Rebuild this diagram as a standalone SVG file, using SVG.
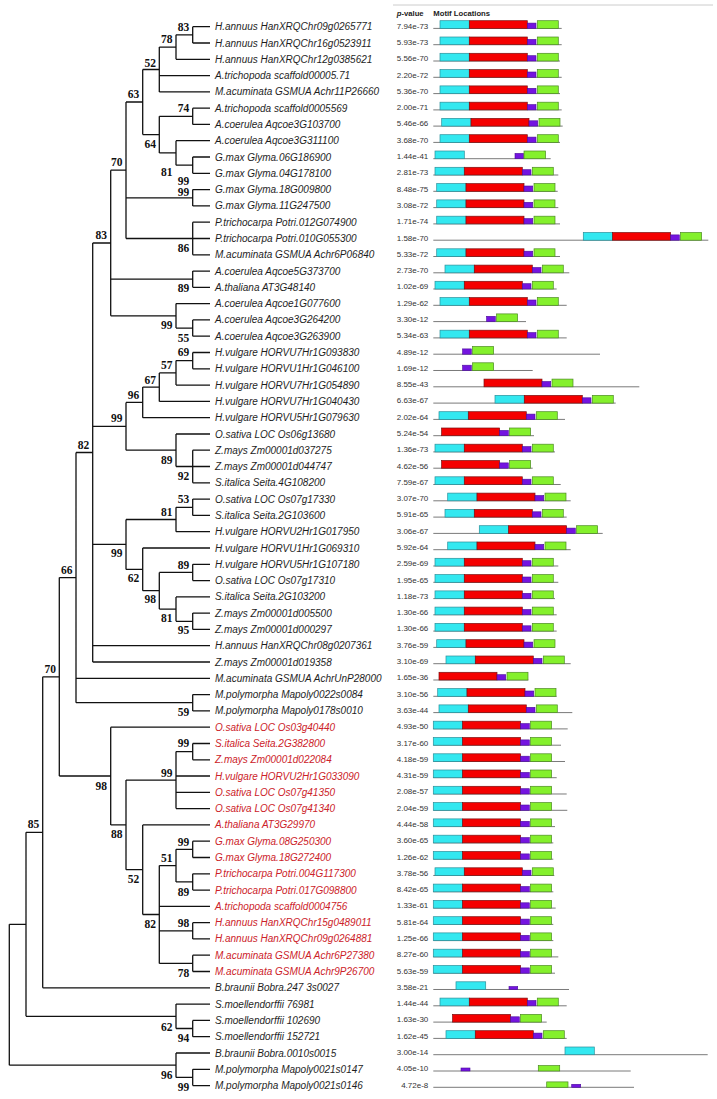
<svg xmlns="http://www.w3.org/2000/svg" xmlns:xlink="http://www.w3.org/1999/xlink" width="717" height="1099" viewBox="0 0 717 1099">
<style>
.lb{font-family:"Liberation Sans",Arial,sans-serif;font-size:10px;font-style:italic;fill:#1e1e1e}
.red .lb{fill:#cc2229}
.pv{font-family:"Liberation Sans",Arial,sans-serif;font-size:8px;fill:#333;text-anchor:end}
.hd{font-family:"Liberation Sans",Arial,sans-serif;font-size:7.7px;font-weight:bold;fill:#222}
.bs{font-family:"Liberation Serif","Times New Roman",serif;font-weight:bold;font-size:11.5px;text-anchor:end;fill:#111}
.bb{stroke:#7a7a7a;stroke-width:1}
.c{fill:#33e8f0;stroke:#2a8f9a;stroke-width:.7}
.r{fill:#f40000;stroke:#7a1010;stroke-width:.7}
.p{fill:#7414e0;stroke:#4a0a9a;stroke-width:.6}
.g{fill:#84f02c;stroke:#4c8a22;stroke-width:.7}
.tr{fill:none;stroke:#111;stroke-width:1.3}
</style>
<defs>
<g id="mf"><rect class="c" x="0" y="-7.7" width="29.3" height="7.7"/><rect class="r" x="29.3" y="-7.7" width="58" height="7.7"/><rect class="p" x="87.3" y="-5.3" width="8.7" height="5.3"/><rect class="g" x="97.3" y="-7.7" width="21" height="7.7"/></g>
<g id="mnc"><rect class="r" x="29.3" y="-7.7" width="58" height="7.7"/><rect class="p" x="87.3" y="-5.3" width="8.7" height="5.3"/><rect class="g" x="97.3" y="-7.7" width="21" height="7.7"/></g>
<g id="mpg"><rect class="p" x="87.3" y="-5.3" width="8.7" height="5.3"/><rect class="g" x="97.3" y="-7.7" width="21" height="7.7"/></g>
</defs>
<rect width="717" height="1099" fill="#fff"/>
<line x1="393" y1="5" x2="713" y2="5" stroke="#ccc" stroke-width="1"/>
<text class="hd" x="396.7" y="15.5"><tspan font-style="italic">p</tspan>-value</text>
<text class="hd" x="433.3" y="15.5">Motif Locations</text>

<g id="connectors" class="tr">
<path d="M192.7,26.7V43 M192.7,26.7H210 M192.7,43H210
M176,34.85V59.3 M176,34.85H192.7 M176,59.3H210
M159.3,47.07V91.9 M159.3,47.07H176 M159.3,75.6H210 M159.3,91.9H210
M192.7,108.2V124.4 M192.7,108.2H210 M192.7,124.4H210
M192.7,157V173.3 M192.7,157H210 M192.7,173.3H210
M176,140.7V165.2 M176,140.7H210 M176,165.2H192.7
M159.3,116.3V152.9 M159.3,116.3H192.7 M159.3,152.9H176
M142.7,69.5V134.6 M142.7,69.5H159.3 M142.7,134.6H159.3
M192.7,189.6V205.9 M192.7,189.6H210 M192.7,205.9H210
M192.7,222.2V254.8 M192.7,222.2H210 M192.7,238.5H210 M192.7,254.8H210
M126,102V238.5 M126,102H142.7 M126,197.8H192.7 M126,238.5H192.7
M192.7,271.1V287.3 M192.7,271.1H210 M192.7,287.3H210
M192.7,319.9V336.2 M192.7,319.9H210 M192.7,336.2H210
M176,303.6V328.1 M176,303.6H210 M176,328.1H192.7
M110.7,170.2V315.8 M110.7,170.2H126 M110.7,279.2H192.7 M110.7,315.8H176
M192.7,352.5V368.8 M192.7,352.5H210 M192.7,368.8H210
M176,360.6V385.1 M176,360.6H192.7 M176,385.1H210
M159.3,372.9V401.4 M159.3,372.9H176 M159.3,401.4H210
M142.7,387.1V417.7 M142.7,387.1H159.3 M142.7,417.7H210
M192.7,450.2V482.8 M192.7,450.2H210 M192.7,466.5H210 M192.7,482.8H210
M176,434V466.5 M176,434H210 M176,466.5H192.7
M126,402.4V450.2 M126,402.4H142.7 M126,450.2H176
M192.7,499.1V515.4 M192.7,499.1H210 M192.7,515.4H210
M176,507.3V531.7 M176,507.3H192.7 M176,531.7H210
M192.7,564.3V580.6 M192.7,564.3H210 M192.7,580.6H210
M192.7,613.1V629.4 M192.7,613.1H210 M192.7,629.4H210
M176,596.9V621.3 M176,596.9H210 M176,621.3H192.7
M159.3,572.4V609.1 M159.3,572.4H192.7 M159.3,609.1H176
M142.7,548V590.7 M142.7,548H210 M142.7,590.7H159.3
M126,519.5V569.4 M126,519.5H176 M126,569.4H142.7
M92.7,243V662 M92.7,243H110.7 M92.7,426.3H126 M92.7,544.4H126 M92.7,645.7H210 M92.7,662H210
M192.7,694.6V710.9 M192.7,694.6H210 M192.7,710.9H210
M192.7,743.5V759.8 M192.7,743.5H210 M192.7,759.8H210
M176,751.6V808.6 M176,751.6H192.7 M176,776H210 M176,792.3H210 M176,808.6H210
M192.7,841.2V857.5 M192.7,841.2H210 M192.7,857.5H210
M192.7,873.8V890.1 M192.7,873.8H210 M192.7,890.1H210
M176,849.3V881.9 M176,849.3H192.7 M176,881.9H192.7
M192.7,922.7V938.9 M192.7,922.7H210 M192.7,938.9H210
M192.7,955.2V971.5 M192.7,955.2H210 M192.7,971.5H210
M159.3,865.6V963.4 M159.3,865.6H176 M159.3,906.4H210 M159.3,930.8H192.7 M159.3,963.4H192.7
M142.7,824.9V914.5 M142.7,824.9H210 M142.7,914.5H159.3
M126,780.1V869.7 M126,780.1H176 M126,869.7H142.7
M110.7,727.2V824.9 M110.7,727.2H210 M110.7,824.9H126
M192.7,1020.4V1036.7 M192.7,1020.4H210 M192.7,1036.7H210
M176,1004.1V1028.5 M176,1004.1H210 M176,1028.5H192.7
M192.7,1069.3V1085.6 M192.7,1069.3H210 M192.7,1085.6H210
M176,1053V1077.4 M176,1053H210 M176,1077.4H192.7
M76,452.5V702.7 M76,452.5H92.7 M76,678.3H210 M76,702.7H192.7
M59.3,577.6V776 M59.3,577.6H76 M59.3,776H110.7
M42.7,676.8V987.8 M42.7,676.8H59.3 M42.7,987.8H210
M26,832.3V1016.3 M26,832.3H42.7 M26,1016.3H176
M9.3,924.3V1065.2 M9.3,924.3H26 M9.3,1065.2H176"/>
</g>

<g id="bootstrap">
<g id="n83a"><text class="bs" x="189.3" y="31.3">83</text></g>
<g id="n78a"><text class="bs" x="172.6" y="43.3">78</text></g>
<g id="n52a"><text class="bs" x="155.9" y="66.7">52</text></g>
<g id="n63"><text class="bs" x="139.3" y="98.3">63</text></g>
<g id="n74"><text class="bs" x="189.3" y="112.3">74</text></g>
<g id="n64"><text class="bs" x="155.9" y="148">64</text></g>
<g id="n81a"><text class="bs" x="172.6" y="175.7">81</text></g>
<g id="n99a"><text class="bs" x="189.3" y="185">99</text></g>
<g id="n70a"><text class="bs" x="122.6" y="166.3">70</text></g>
<g id="n99b"><text class="bs" x="189.3" y="195.6">99</text></g>
<g id="n86"><text class="bs" x="189.3" y="252.3">86</text></g>
<g id="n83b"><text class="bs" x="106.9" y="239">83</text></g>
<g id="n89a"><text class="bs" x="189.3" y="292.3">89</text></g>
<g id="n99c"><text class="bs" x="172.6" y="329">99</text></g>
<g id="n55"><text class="bs" x="189.3" y="341.7">55</text></g>
<g id="n69"><text class="bs" x="189.3" y="355.7">69</text></g>
<g id="n57"><text class="bs" x="172.6" y="369">57</text></g>
<g id="n67"><text class="bs" x="155.9" y="384">67</text></g>
<g id="n96a"><text class="bs" x="139.3" y="399">96</text></g>
<g id="n99d"><text class="bs" x="122.6" y="422.3">99</text></g>
<g id="n82a"><text class="bs" x="89.3" y="449">82</text></g>
<g id="n89b"><text class="bs" x="172.6" y="464">89</text></g>
<g id="n92"><text class="bs" x="189.3" y="480">92</text></g>
<g id="n53"><text class="bs" x="189.3" y="503.3">53</text></g>
<g id="n81b"><text class="bs" x="172.6" y="515.7">81</text></g>
<g id="n99e"><text class="bs" x="122.6" y="557.3">99</text></g>
<g id="n89c"><text class="bs" x="189.3" y="569">89</text></g>
<g id="nA"><text class="bs" x="72.6" y="573.6">66</text></g>
<g id="n62a"><text class="bs" x="139.3" y="582.3">62</text></g>
<g id="n98a"><text class="bs" x="155.9" y="603.3">98</text></g>
<g id="n81c"><text class="bs" x="172.6" y="621.7">81</text></g>
<g id="n95"><text class="bs" x="189.3" y="634">95</text></g>
<g id="nB"><text class="bs" x="55.9" y="672.8">70</text></g>
<g id="n59"><text class="bs" x="189.3" y="715.7">59</text></g>
<g id="n99f"><text class="bs" x="189.3" y="747.3">99</text></g>
<g id="n99g"><text class="bs" x="172.6" y="777.3">99</text></g>
<g id="n98b"><text class="bs" x="106.9" y="789.7">98</text></g>
<g id="nC"><text class="bs" x="39.3" y="828.3">85</text></g>
<g id="n88"><text class="bs" x="122.6" y="838.3">88</text></g>
<g id="n99h"><text class="bs" x="189.3" y="845.7">99</text></g>
<g id="n51"><text class="bs" x="172.6" y="862.3">51</text></g>
<g id="n52b"><text class="bs" x="139.3" y="883.3">52</text></g>
<g id="n89d"><text class="bs" x="189.3" y="895.7">89</text></g>
<g id="n82b"><text class="bs" x="155.9" y="928">82</text></g>
<g id="n98c"><text class="bs" x="189.3" y="926.7">98</text></g>
<g id="n78c"><text class="bs" x="189.3" y="977.3">78</text></g>
<g id="n62b"><text class="bs" x="172.6" y="1030.7">62</text></g>
<g id="n94"><text class="bs" x="189.3" y="1042.3">94</text></g>
<g id="n96b"><text class="bs" x="172.6" y="1079">96</text></g>
<g id="n99i"><text class="bs" x="189.3" y="1090.7">99</text></g>
</g>

<g id="leaves">
<g id="leaf1" transform="translate(0,26.7)"><text class="lb" x="215" y="3.5">H.annuus HanXRQChr09g0265771</text><text class="pv" x="428.3" y="2">7.94e-73</text><line class="bb" x1="433.3" y1="1.7" x2="561.7" y2="1.7"/><use href="#mf" x="440" y="1.7"/></g>
<g id="leaf2" transform="translate(0,43)"><text class="lb" x="215" y="3.5">H.annuus HanXRQChr16g0523911</text><text class="pv" x="428.3" y="2">5.93e-73</text><line class="bb" x1="433.3" y1="1.7" x2="561.7" y2="1.7"/><use href="#mf" x="440" y="1.7"/></g>
<g id="leaf3" transform="translate(0,59.3)"><text class="lb" x="215" y="3.5">H.annuus HanXRQChr12g0385621</text><text class="pv" x="428.3" y="2">5.56e-70</text><line class="bb" x1="433.3" y1="1.7" x2="560" y2="1.7"/><use href="#mf" x="440" y="1.7"/></g>
<g id="leaf4" transform="translate(0,75.6)"><text class="lb" x="215" y="3.5">A.trichopoda scaffold00005.71</text><text class="pv" x="428.3" y="2">2.20e-72</text><line class="bb" x1="433.3" y1="1.7" x2="561.7" y2="1.7"/><use href="#mf" x="440" y="1.7"/></g>
<g id="leaf5" transform="translate(0,91.9)"><text class="lb" x="215" y="3.5">M.acuminata GSMUA Achr11P26660</text><text class="pv" x="428.3" y="2">5.36e-70</text><line class="bb" x1="433.3" y1="1.7" x2="560" y2="1.7"/><use href="#mf" x="440" y="1.7"/></g>
<g id="leaf6" transform="translate(0,108.2)"><text class="lb" x="215" y="3.5">A.trichopoda scaffold0005569</text><text class="pv" x="428.3" y="2">2.00e-71</text><line class="bb" x1="433.3" y1="1.7" x2="561.7" y2="1.7"/><use href="#mf" x="440" y="1.7"/></g>
<g id="leaf7" transform="translate(0,124.4)"><text class="lb" x="215" y="3.5">A.coerulea Aqcoe3G103700</text><text class="pv" x="428.3" y="2">5.46e-66</text><line class="bb" x1="433.3" y1="1.7" x2="562.7" y2="1.7"/><use href="#mf" x="441.7" y="1.7"/></g>
<g id="leaf8" transform="translate(0,140.7)"><text class="lb" x="215" y="3.5">A.coerulea Aqcoe3G311100</text><text class="pv" x="428.3" y="2">3.68e-70</text><line class="bb" x1="433.3" y1="1.7" x2="560" y2="1.7"/><use href="#mf" x="440" y="1.7"/></g>
<g id="leaf9" transform="translate(0,157)"><text class="lb" x="215" y="3.5">G.max Glyma.06G186900</text><text class="pv" x="428.3" y="2">1.44e-41</text><line class="bb" x1="433.3" y1="1.7" x2="550.7" y2="1.7"/><rect class="c" x="435" y="-6" width="29.3" height="7.7"/><rect class="p" x="515" y="-3.6" width="8.5" height="5.3"/><rect class="g" x="524" y="-6" width="21.5" height="7.7"/></g>
<g id="leaf10" transform="translate(0,173.3)"><text class="lb" x="215" y="3.5">G.max Glyma.04G178100</text><text class="pv" x="428.3" y="2">2.81e-73</text><line class="bb" x1="433.3" y1="1.7" x2="558.3" y2="1.7"/><use href="#mf" x="435" y="1.7"/></g>
<g id="leaf11" transform="translate(0,189.6)"><text class="lb" x="215" y="3.5">G.max Glyma.18G009800</text><text class="pv" x="428.3" y="2">8.48e-75</text><line class="bb" x1="433.3" y1="1.7" x2="557.7" y2="1.7"/><use href="#mf" x="436.7" y="1.7"/></g>
<g id="leaf12" transform="translate(0,205.9)"><text class="lb" x="215" y="3.5">G.max Glyma.11G247500</text><text class="pv" x="428.3" y="2">3.08e-72</text><line class="bb" x1="433.3" y1="1.7" x2="558.3" y2="1.7"/><use href="#mf" x="436.7" y="1.7"/></g>
<g id="leaf13" transform="translate(0,222.2)"><text class="lb" x="215" y="3.5">P.trichocarpa Potri.012G074900</text><text class="pv" x="428.3" y="2">1.71e-74</text><line class="bb" x1="433.3" y1="1.7" x2="560" y2="1.7"/><use href="#mf" x="436.7" y="1.7"/></g>
<g id="leaf14" transform="translate(0,238.5)"><text class="lb" x="215" y="3.5">P.trichocarpa Potri.010G055300</text><text class="pv" x="428.3" y="2">1.58e-70</text><line class="bb" x1="433.3" y1="1.7" x2="708.3" y2="1.7"/><use href="#mf" x="583.3" y="1.7"/></g>
<g id="leaf15" transform="translate(0,254.8)"><text class="lb" x="215" y="3.5">M.acuminata GSMUA Achr6P06840</text><text class="pv" x="428.3" y="2">5.33e-72</text><line class="bb" x1="433.3" y1="1.7" x2="560" y2="1.7"/><use href="#mf" x="436.7" y="1.7"/></g>
<g id="leaf16" transform="translate(0,271.1)"><text class="lb" x="215" y="3.5">A.coerulea Aqcoe5G373700</text><text class="pv" x="428.3" y="2">2.73e-70</text><line class="bb" x1="433.3" y1="1.7" x2="569.3" y2="1.7"/><use href="#mf" x="445" y="1.7"/></g>
<g id="leaf17" transform="translate(0,287.3)"><text class="lb" x="215" y="3.5">A.thaliana AT3G48140</text><text class="pv" x="428.3" y="2">1.02e-69</text><line class="bb" x1="433.3" y1="1.7" x2="556.7" y2="1.7"/><use href="#mf" x="435" y="1.7"/></g>
<g id="leaf18" transform="translate(0,303.6)"><text class="lb" x="215" y="3.5">A.coerulea Aqcoe1G077600</text><text class="pv" x="428.3" y="2">1.29e-62</text><line class="bb" x1="433.3" y1="1.7" x2="566.7" y2="1.7"/><use href="#mf" x="440" y="1.7"/></g>
<g id="leaf19" transform="translate(0,319.9)"><text class="lb" x="215" y="3.5">A.coerulea Aqcoe3G264200</text><text class="pv" x="428.3" y="2">3.30e-12</text><line class="bb" x1="433.3" y1="1.7" x2="526" y2="1.7"/><use href="#mpg" x="399.3" y="1.7"/></g>
<g id="leaf20" transform="translate(0,336.2)"><text class="lb" x="215" y="3.5">A.coerulea Aqcoe3G263900</text><text class="pv" x="428.3" y="2">5.34e-63</text><line class="bb" x1="433.3" y1="1.7" x2="566.7" y2="1.7"/><use href="#mf" x="440" y="1.7"/></g>
<g id="leaf21" transform="translate(0,352.5)"><text class="lb" x="215" y="3.5">H.vulgare HORVU7Hr1G093830</text><text class="pv" x="428.3" y="2">4.89e-12</text><line class="bb" x1="433.3" y1="1.7" x2="600" y2="1.7"/><use href="#mpg" x="375.3" y="1.7"/></g>
<g id="leaf22" transform="translate(0,368.8)"><text class="lb" x="215" y="3.5">H.vulgare HORVU1Hr1G046100</text><text class="pv" x="428.3" y="2">1.69e-12</text><line class="bb" x1="433.3" y1="1.7" x2="532.7" y2="1.7"/><use href="#mpg" x="375.3" y="1.7"/></g>
<g id="leaf23" transform="translate(0,385.1)"><text class="lb" x="215" y="3.5">H.vulgare HORVU7Hr1G054890</text><text class="pv" x="428.3" y="2">8.55e-43</text><line class="bb" x1="433.3" y1="1.7" x2="639.3" y2="1.7"/><use href="#mnc" x="454.7" y="1.7"/></g>
<g id="leaf24" transform="translate(0,401.4)"><text class="lb" x="215" y="3.5">H.vulgare HORVU7Hr1G040430</text><text class="pv" x="428.3" y="2">6.63e-67</text><line class="bb" x1="433.3" y1="1.7" x2="615.7" y2="1.7"/><use href="#mf" x="495" y="1.7"/></g>
<g id="leaf25" transform="translate(0,417.7)"><text class="lb" x="215" y="3.5">H.vulgare HORVU5Hr1G079630</text><text class="pv" x="428.3" y="2">2.02e-64</text><line class="bb" x1="433.3" y1="1.7" x2="565" y2="1.7"/><use href="#mf" x="439" y="1.7"/></g>
<g id="leaf26" transform="translate(0,434)"><text class="lb" x="215" y="3.5">O.sativa LOC Os06g13680</text><text class="pv" x="428.3" y="2">5.24e-54</text><line class="bb" x1="433.3" y1="1.7" x2="534" y2="1.7"/><use href="#mnc" x="412.3" y="1.7"/></g>
<g id="leaf27" transform="translate(0,450.2)"><text class="lb" x="215" y="3.5">Z.mays Zm00001d037275</text><text class="pv" x="428.3" y="2">1.36e-73</text><line class="bb" x1="433.3" y1="1.7" x2="555" y2="1.7"/><use href="#mf" x="435" y="1.7"/></g>
<g id="leaf28" transform="translate(0,466.5)"><text class="lb" x="215" y="3.5">Z.mays Zm00001d044747</text><text class="pv" x="428.3" y="2">4.62e-56</text><line class="bb" x1="433.3" y1="1.7" x2="532.7" y2="1.7"/><use href="#mnc" x="412.3" y="1.7"/></g>
<g id="leaf29" transform="translate(0,482.8)"><text class="lb" x="215" y="3.5">S.italica Seita.4G108200</text><text class="pv" x="428.3" y="2">7.59e-67</text><line class="bb" x1="433.3" y1="1.7" x2="560.7" y2="1.7"/><use href="#mf" x="435" y="1.7"/></g>
<g id="leaf30" transform="translate(0,499.1)"><text class="lb" x="215" y="3.5">O.sativa LOC Os07g17330</text><text class="pv" x="428.3" y="2">3.07e-70</text><line class="bb" x1="433.3" y1="1.7" x2="570.7" y2="1.7"/><use href="#mf" x="447.7" y="1.7"/></g>
<g id="leaf31" transform="translate(0,515.4)"><text class="lb" x="215" y="3.5">S.italica Seita.2G103600</text><text class="pv" x="428.3" y="2">5.91e-65</text><line class="bb" x1="433.3" y1="1.7" x2="566.7" y2="1.7"/><use href="#mf" x="445" y="1.7"/></g>
<g id="leaf32" transform="translate(0,531.7)"><text class="lb" x="215" y="3.5">H.vulgare HORVU2Hr1G017950</text><text class="pv" x="428.3" y="2">3.06e-67</text><line class="bb" x1="433.3" y1="1.7" x2="602.7" y2="1.7"/><use href="#mf" x="479.3" y="1.7"/></g>
<g id="leaf33" transform="translate(0,548)"><text class="lb" x="215" y="3.5">H.vulgare HORVU1Hr1G069310</text><text class="pv" x="428.3" y="2">5.92e-64</text><line class="bb" x1="433.3" y1="1.7" x2="570.7" y2="1.7"/><use href="#mf" x="447.7" y="1.7"/></g>
<g id="leaf34" transform="translate(0,564.3)"><text class="lb" x="215" y="3.5">H.vulgare HORVU5Hr1G107180</text><text class="pv" x="428.3" y="2">2.59e-69</text><line class="bb" x1="433.3" y1="1.7" x2="558.3" y2="1.7"/><use href="#mf" x="435" y="1.7"/></g>
<g id="leaf35" transform="translate(0,580.6)"><text class="lb" x="215" y="3.5">O.sativa LOC Os07g17310</text><text class="pv" x="428.3" y="2">1.95e-65</text><line class="bb" x1="433.3" y1="1.7" x2="558.3" y2="1.7"/><use href="#mf" x="435" y="1.7"/></g>
<g id="leaf36" transform="translate(0,596.9)"><text class="lb" x="215" y="3.5">S.italica Seita.2G103200</text><text class="pv" x="428.3" y="2">1.18e-73</text><line class="bb" x1="433.3" y1="1.7" x2="555" y2="1.7"/><use href="#mf" x="435" y="1.7"/></g>
<g id="leaf37" transform="translate(0,613.1)"><text class="lb" x="215" y="3.5">Z.mays Zm00001d005500</text><text class="pv" x="428.3" y="2">1.30e-66</text><line class="bb" x1="433.3" y1="1.7" x2="556.7" y2="1.7"/><use href="#mf" x="435" y="1.7"/></g>
<g id="leaf38" transform="translate(0,629.4)"><text class="lb" x="215" y="3.5">Z.mays Zm00001d000297</text><text class="pv" x="428.3" y="2">1.30e-66</text><line class="bb" x1="433.3" y1="1.7" x2="556.7" y2="1.7"/><use href="#mf" x="435" y="1.7"/></g>
<g id="leaf39" transform="translate(0,645.7)"><text class="lb" x="215" y="3.5">H.annuus HanXRQChr08g0207361</text><text class="pv" x="428.3" y="2">3.76e-59</text><line class="bb" x1="433.3" y1="1.7" x2="555" y2="1.7"/><use href="#mf" x="436.7" y="1.7"/></g>
<g id="leaf40" transform="translate(0,662)"><text class="lb" x="215" y="3.5">Z.mays Zm00001d019358</text><text class="pv" x="428.3" y="2">3.10e-69</text><line class="bb" x1="433.3" y1="1.7" x2="570.7" y2="1.7"/><use href="#mf" x="446" y="1.7"/></g>
<g id="leaf41" transform="translate(0,678.3)"><text class="lb" x="215" y="3.5">M.acuminata GSMUA AchrUnP28000</text><text class="pv" x="428.3" y="2">1.65e-36</text><line class="bb" x1="433.3" y1="1.7" x2="528.3" y2="1.7"/><use href="#mnc" x="409.7" y="1.7"/></g>
<g id="leaf42" transform="translate(0,694.6)"><text class="lb" x="215" y="3.5">M.polymorpha Mapoly0022s0084</text><text class="pv" x="428.3" y="2">3.10e-56</text><line class="bb" x1="433.3" y1="1.7" x2="556.7" y2="1.7"/><use href="#mf" x="437.7" y="1.7"/></g>
<g id="leaf43" transform="translate(0,710.9)"><text class="lb" x="215" y="3.5">M.polymorpha Mapoly0178s0010</text><text class="pv" x="428.3" y="2">3.63e-44</text><line class="bb" x1="433.3" y1="1.7" x2="572.3" y2="1.7"/><use href="#mf" x="439" y="1.7"/></g>
<g class="red">
<g id="leaf44" transform="translate(0,727.2)"><text class="lb" x="215" y="3.5">O.sativa LOC Os03g40440</text><text class="pv" x="428.3" y="2">4.93e-50</text><line class="bb" x1="433.3" y1="1.7" x2="567.7" y2="1.7"/><use href="#mf" x="433.3" y="1.7"/></g>
<g id="leaf45" transform="translate(0,743.5)"><text class="lb" x="215" y="3.5">S.italica Seita.2G382800</text><text class="pv" x="428.3" y="2">3.17e-60</text><line class="bb" x1="433.3" y1="1.7" x2="561" y2="1.7"/><use href="#mf" x="433.3" y="1.7"/></g>
<g id="leaf46" transform="translate(0,759.8)"><text class="lb" x="215" y="3.5">Z.mays Zm00001d022084</text><text class="pv" x="428.3" y="2">4.18e-59</text><line class="bb" x1="433.3" y1="1.7" x2="565" y2="1.7"/><use href="#mf" x="433.3" y="1.7"/></g>
<g id="leaf47" transform="translate(0,776)"><text class="lb" x="215" y="3.5">H.vulgare HORVU2Hr1G033090</text><text class="pv" x="428.3" y="2">4.31e-59</text><line class="bb" x1="433.3" y1="1.7" x2="556.7" y2="1.7"/><use href="#mf" x="433.3" y="1.7"/></g>
<g id="leaf48" transform="translate(0,792.3)"><text class="lb" x="215" y="3.5">O.sativa LOC Os07g41350</text><text class="pv" x="428.3" y="2">2.08e-57</text><line class="bb" x1="433.3" y1="1.7" x2="566.7" y2="1.7"/><use href="#mf" x="433.3" y="1.7"/></g>
<g id="leaf49" transform="translate(0,808.6)"><text class="lb" x="215" y="3.5">O.sativa LOC Os07g41340</text><text class="pv" x="428.3" y="2">2.04e-59</text><line class="bb" x1="433.3" y1="1.7" x2="567.3" y2="1.7"/><use href="#mf" x="433.3" y="1.7"/></g>
<g id="leaf50" transform="translate(0,824.9)"><text class="lb" x="215" y="3.5">A.thaliana AT3G29970</text><text class="pv" x="428.3" y="2">4.44e-58</text><line class="bb" x1="433.3" y1="1.7" x2="555" y2="1.7"/><use href="#mf" x="433.3" y="1.7"/></g>
<g id="leaf51" transform="translate(0,841.2)"><text class="lb" x="215" y="3.5">G.max Glyma.08G250300</text><text class="pv" x="428.3" y="2">3.60e-65</text><line class="bb" x1="433.3" y1="1.7" x2="553.3" y2="1.7"/><use href="#mf" x="433.3" y="1.7"/></g>
<g id="leaf52" transform="translate(0,857.5)"><text class="lb" x="215" y="3.5">G.max Glyma.18G272400</text><text class="pv" x="428.3" y="2">1.26e-62</text><line class="bb" x1="433.3" y1="1.7" x2="553.3" y2="1.7"/><use href="#mf" x="433.3" y="1.7"/></g>
<g id="leaf53" transform="translate(0,873.8)"><text class="lb" x="215" y="3.5">P.trichocarpa Potri.004G117300</text><text class="pv" x="428.3" y="2">3.78e-56</text><line class="bb" x1="433.3" y1="1.7" x2="554.3" y2="1.7"/><use href="#mf" x="435" y="1.7"/></g>
<g id="leaf54" transform="translate(0,890.1)"><text class="lb" x="215" y="3.5">P.trichocarpa Potri.017G098800</text><text class="pv" x="428.3" y="2">8.42e-65</text><line class="bb" x1="433.3" y1="1.7" x2="553.3" y2="1.7"/><use href="#mf" x="433.3" y="1.7"/></g>
<g id="leaf55" transform="translate(0,906.4)"><text class="lb" x="215" y="3.5">A.trichopoda scaffold0004756</text><text class="pv" x="428.3" y="2">1.33e-61</text><line class="bb" x1="433.3" y1="1.7" x2="555.7" y2="1.7"/><use href="#mf" x="433.3" y="1.7"/></g>
<g id="leaf56" transform="translate(0,922.7)"><text class="lb" x="215" y="3.5">H.annuus HanXRQChr15g0489011</text><text class="pv" x="428.3" y="2">5.81e-64</text><line class="bb" x1="433.3" y1="1.7" x2="553.3" y2="1.7"/><use href="#mf" x="433.3" y="1.7"/></g>
<g id="leaf57" transform="translate(0,938.9)"><text class="lb" x="215" y="3.5">H.annuus HanXRQChr09g0264881</text><text class="pv" x="428.3" y="2">1.25e-66</text><line class="bb" x1="433.3" y1="1.7" x2="553.3" y2="1.7"/><use href="#mf" x="433.3" y="1.7"/></g>
<g id="leaf58" transform="translate(0,955.2)"><text class="lb" x="215" y="3.5">M.acuminata GSMUA Achr6P27380</text><text class="pv" x="428.3" y="2">8.27e-60</text><line class="bb" x1="433.3" y1="1.7" x2="558.3" y2="1.7"/><use href="#mf" x="433.3" y="1.7"/></g>
<g id="leaf59" transform="translate(0,971.5)"><text class="lb" x="215" y="3.5">M.acuminata GSMUA Achr9P26700</text><text class="pv" x="428.3" y="2">5.63e-59</text><line class="bb" x1="433.3" y1="1.7" x2="555" y2="1.7"/><use href="#mf" x="433.3" y="1.7"/></g>
</g>
<g id="leaf60" transform="translate(0,987.8)"><text class="lb" x="215" y="3.5">B.braunii Bobra.247 3s0027</text><text class="pv" x="428.3" y="2">3.58e-21</text><line class="bb" x1="433.3" y1="1.7" x2="569" y2="1.7"/><rect class="c" x="456" y="-6" width="29.7" height="7.7"/><rect class="p" x="509" y="-1.3" width="8.7" height="3"/></g>
<g id="leaf61" transform="translate(0,1004.1)"><text class="lb" x="215" y="3.5">S.moellendorffii 76981</text><text class="pv" x="428.3" y="2">1.44e-44</text><line class="bb" x1="433.3" y1="1.7" x2="566.7" y2="1.7"/><use href="#mf" x="440" y="1.7"/></g>
<g id="leaf62" transform="translate(0,1020.4)"><text class="lb" x="215" y="3.5">S.moellendorffii 102690</text><text class="pv" x="428.3" y="2">1.63e-30</text><line class="bb" x1="433.3" y1="1.7" x2="546.7" y2="1.7"/><use href="#mnc" x="423.3" y="1.7"/></g>
<g id="leaf63" transform="translate(0,1036.7)"><text class="lb" x="215" y="3.5">S.moellendorffii 152721</text><text class="pv" x="428.3" y="2">1.62e-45</text><line class="bb" x1="433.3" y1="1.7" x2="566.7" y2="1.7"/><use href="#mf" x="446" y="1.7"/></g>
<g id="leaf64" transform="translate(0,1053)"><text class="lb" x="215" y="3.5">B.braunii Bobra.0010s0015</text><text class="pv" x="428.3" y="2">3.00e-14</text><line class="bb" x1="433.3" y1="1.7" x2="707.7" y2="1.7"/><rect class="c" x="565" y="-6" width="29.3" height="7.7"/></g>
<g id="leaf65" transform="translate(0,1069.3)"><text class="lb" x="215" y="3.5">M.polymorpha Mapoly0021s0147</text><text class="pv" x="428.3" y="2">4.05e-10</text><line class="bb" x1="433.3" y1="1.7" x2="630.7" y2="1.7"/><rect class="p" x="461" y="-1.3" width="9" height="3"/><rect class="g" x="538.3" y="-3.7" width="21.4" height="5.4"/></g>
<g id="leaf66" transform="translate(0,1085.6)"><text class="lb" x="215" y="3.5">M.polymorpha Mapoly0021s0146</text><text class="pv" x="428.3" y="2">4.72e-8</text><line class="bb" x1="433.3" y1="1.7" x2="634" y2="1.7"/><rect class="g" x="546.7" y="-3.7" width="21.3" height="5.4"/><rect class="p" x="571.7" y="-1.3" width="9" height="3"/></g>
</g>
</svg>
